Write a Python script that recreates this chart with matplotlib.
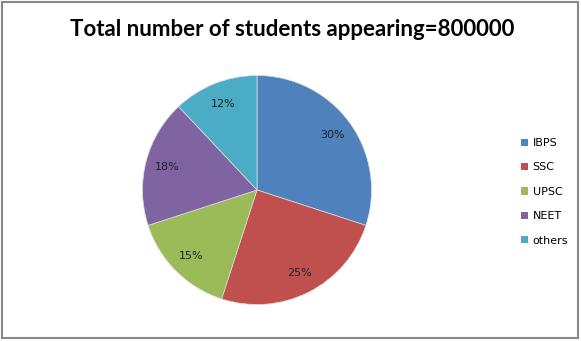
import matplotlib
matplotlib.use("Agg")
import matplotlib.pyplot as plt
from matplotlib.patches import Rectangle

title = "Total number of students appearing=800000"
categories = ["IBPS", "SSC", "UPSC", "NEET", "others"]
values = [30, 25, 15, 18, 12]
colors = ["#4F81BD", "#C0504D", "#9BBB59", "#8064A2", "#4BACC6"]

W, H = 581, 341
fig = plt.figure(figsize=(W / 100, H / 100), dpi=100)
fig.patch.set_facecolor("white")

cx, cy, r = 257, 190, 114.5
ax = fig.add_axes([(cx - r) / W, (H - cy - r) / H, 2 * r / W, 2 * r / H])
wedges, texts, autotexts = ax.pie(
    values, colors=colors, startangle=90, counterclock=False, radius=1,
    autopct="%d%%", pctdistance=0.81,
    wedgeprops=dict(linewidth=0.5, edgecolor="#dddddd"),
    textprops=dict(fontsize=8, color="#222222", family="DejaVu Sans"),
)
ax.set_xlim(-1, 1)
ax.set_ylim(-1, 1)
ax.set_aspect("equal")
ax.axis("off")

fig.text(292 / W, 1 - 30 / H, title, ha="center", va="center",
         fontsize=16, fontweight="bold", family="Lato")

leg = fig.legend(wedges, categories, loc="upper left",
                 bbox_to_anchor=(511 / W, 1 - 128 / H), frameon=False,
                 handlelength=0.6, handleheight=0.6, handletextpad=0.45,
                 labelspacing=1.3, prop=dict(size=8, family="DejaVu Sans"))
for h in leg.legend_handles:
    h.set_edgecolor("none")

fig.patches.append(Rectangle((2 / W, 3 / H), (W - 5) / W, (H - 5) / H,
                             transform=fig.transFigure, fill=False,
                             edgecolor="#888888", linewidth=1.5))

fig.savefig("out.png", dpi=100)
